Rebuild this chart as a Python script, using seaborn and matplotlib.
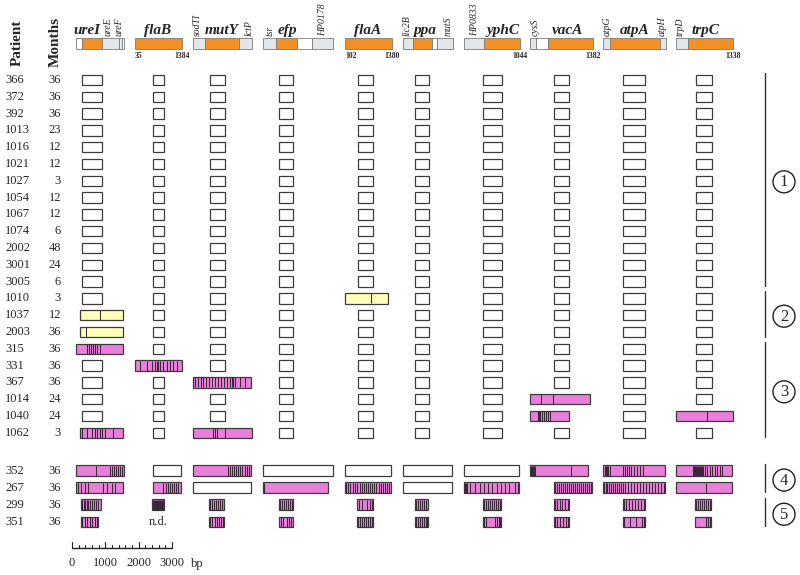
import matplotlib.pyplot as plt
from matplotlib.patches import Circle
import seaborn as sns

# patients and follow-up (months)
patients = ["366", "372", "392", "1013", "1016", "1021", "1027", "1054", "1067",
            "1074", "2002", "3001", "3005", "1010", "1037", "2003", "315", "331",
            "367", "1014", "1040", "1062", "352", "267", "299", "351"]
months = [36, 36, 36, 23, 12, 12, 3, 12, 12, 6, 48, 24, 6, 3, 12, 36, 36, 36,
          36, 24, 24, 3, 36, 36, 36, 36]

# groups (first row, last row, label)
groups = [(0, 12, "1"), (13, 15, "2"), (16, 21, "3"), (22, 23, "4"), (24, 25, "5")]

genes = ["ureI", "flaB", "mutY", "efp", "flaA", "ppa", "yphC", "vacA", "atpA", "trpC"]

# gene maps: (part, length in bp); o = sequenced gene, g = flanking gene, w = spacer
gene_maps = {
    "ureI": [("w", 180), ("o", 600), ("g", 510), ("g", 90), ("w", 60)],
    "flaB": [("o", 1410)],
    "mutY": [("g", 360), ("o", 1020), ("g", 390)],
    "efp": [("g", 390), ("o", 630), ("w", 450), ("g", 630)],
    "flaA": [("o", 1410)],
    "ppa": [("g", 300), ("o", 570), ("w", 150), ("g", 480)],
    "yphC": [("g", 600), ("o", 1080)],
    "vacA": [("g", 180), ("w", 360), ("o", 1350)],
    "atpA": [("g", 210), ("o", 1500), ("g", 180)],
    "trpC": [("g", 360), ("o", 1350)],
}
flank_labels = {
    "ureI": [("ureE", 960), ("ureF", 1290)],
    "mutY": [("sodTI", 120), ("lctP", 1680)],
    "efp": [("tsr", 210), ("HP0178", 1800)],
    "ppa": [("lic2B", 120), ("mutS", 1350)],
    "yphC": [("HP0833", 330)],
    "vacA": [("cysS", 150)],
    "atpA": [("atpG", 120), ("atpH", 1770)],
    "trpC": [("trpD", 120)],
}
codon_range = {"flaB": ("35", "1384"), "flaA": ("102", "1380"), "yphC": (None, "1044"),
               "vacA": (None, "1382"), "trpC": (None, "1338")}

# default sequenced fragment per gene (bp from map start)
seq_default = {"ureI": (180, 780), "flaB": (540, 870), "mutY": (510, 960),
               "efp": (480, 900), "flaA": (390, 840), "ppa": (360, 780),
               "yphC": (570, 1140), "vacA": (720, 1170), "atpA": (600, 1260),
               "trpC": (600, 1080)}

# changed fragments: (patient, gene, kind, start bp, end bp, polymorphic sites bp)
# kind: y = point mutation, p = imported DNA, w = longer unchanged fragment
changes = [
    ("1010", "flaA", "y", 0, 1290, [780]),
    ("1037", "ureI", "y", 120, 1410, [720]),
    ("2003", "ureI", "y", 120, 1410, [300]),
    ("315", "ureI", "p", 0, 1410, [330, 390, 450, 510, 570, 630, 720]),
    ("331", "flaB", "p", 0, 1410, [150, 360, 510, 600, 660, 690, 750, 840, 960, 1050, 1140, 1260]),
    ("367", "mutY", "p", 0, 1740, [60, 150, 240, 300, 390, 480, 570, 660, 750, 840, 930, 1020,
                                   1110, 1170, 1200, 1260, 1410, 1560]),
    ("1014", "vacA", "p", 0, 1800, [330, 690]),
    ("1040", "vacA", "p", 0, 1170, [240, 270, 300, 360, 420, 480, 540, 600]),
    ("1040", "trpC", "p", 0, 1710, [930]),
    ("1062", "ureI", "p", 120, 1410, [180, 330, 480, 570, 630, 720, 780, 870, 1110]),
    ("1062", "mutY", "p", 0, 1770, [600, 660, 720, 960]),
    ("352", "ureI", "p", 0, 1440, [600, 1020, 1080, 1140, 1200, 1260, 1320, 1380]),
    ("352", "flaB", "w", 540, 1380, []),
    ("352", "mutY", "p", 0, 1740, [1050, 1110, 1170, 1230, 1290, 1350, 1410, 1470, 1560, 1620, 1680]),
    ("352", "efp", "w", 0, 2100, []),
    ("352", "flaA", "w", 0, 1380, []),
    ("352", "ppa", "w", 0, 1470, []),
    ("352", "yphC", "w", 0, 1650, []),
    ("352", "vacA", "p", 0, 1740, [30, 60, 90, 120, 150, 1230]),
    ("352", "atpA", "p", 0, 1860, [60, 90, 120, 150, 210, 600, 660, 720, 780, 840, 930, 1020, 1110, 1200]),
    ("352", "trpC", "p", 0, 1680, [510, 540, 570, 600, 630, 660, 690, 720, 750, 780, 810, 870,
                                   930, 1020, 1080, 1170, 1230, 1320, 1380]),
    ("267", "ureI", "p", 0, 1410, [60, 150, 270, 360, 810, 930, 1080, 1170]),
    ("267", "flaB", "p", 540, 1380, [840, 930, 990, 1050, 1110, 1170, 1230, 1290]),
    ("267", "mutY", "w", 0, 1740, []),
    ("267", "efp", "p", 0, 1950, [30]),
    ("267", "flaA", "p", 0, 1380, [30, 90, 150, 240, 300, 360, 450, 510, 570, 630, 690, 750, 810,
                                   870, 930, 1020, 1080, 1140, 1200, 1260, 1320]),
    ("267", "ppa", "w", 0, 1470, []),
    ("267", "yphC", "p", 0, 1650, [0, 30, 60, 90, 180, 330, 480, 600, 720, 840, 990, 1110, 1230,
                                   1350, 1530, 1620]),
    ("267", "vacA", "p", 720, 1860, [750, 810, 870, 930, 990, 1050, 1110, 1170, 1230, 1290, 1350,
                                     1410, 1470, 1530, 1590, 1650, 1710, 1770, 1830]),
    ("267", "atpA", "p", 0, 1860, [30, 90, 120, 180, 240, 300, 360, 420, 480, 540, 600, 660, 750,
                                   840, 930, 1020, 1110, 1200, 1290, 1380, 1470, 1560, 1650, 1740, 1830]),
    ("267", "trpC", "p", 0, 1680, [900]),
    ("299", "ureI", "p", 150, 750, [180, 240, 270, 330, 360, 420, 480, 540, 600, 660]),
    ("299", "flaB", "p", 510, 870, [540, 570, 600, 630, 660, 690, 720, 750, 780, 810, 840]),
    ("299", "mutY", "p", 480, 930, [510, 570, 630, 690, 750, 810, 870]),
    ("299", "efp", "p", 480, 900, [510, 570, 630, 690, 750, 810, 870]),
    ("299", "flaA", "p", 360, 840, [420, 510, 660, 750, 810]),
    ("299", "ppa", "p", 360, 750, [390, 450, 510, 570, 630, 690]),
    ("299", "yphC", "p", 570, 1110, [600, 660, 720, 780, 840, 900, 960, 1020, 1080]),
    ("299", "vacA", "p", 720, 1170, [750, 810, 900, 960, 1050, 1140]),
    ("299", "atpA", "p", 600, 1260, [630, 690, 780, 870, 960, 1050, 1140, 1230]),
    ("299", "trpC", "p", 570, 1050, [600, 660, 720, 780, 840, 900, 960, 1020]),
    ("351", "ureI", "p", 150, 660, [180, 270, 330, 420, 480, 570, 630]),
    ("351", "mutY", "p", 480, 930, [510, 570, 660, 720, 780, 840, 900]),
    ("351", "efp", "p", 480, 900, [540, 600, 720, 780, 840]),
    ("351", "flaA", "p", 360, 840, [390, 450, 510, 570, 630, 690, 750, 810]),
    ("351", "ppa", "p", 360, 750, [390, 450, 510, 570, 630, 690, 720]),
    ("351", "yphC", "p", 570, 1110, [600, 660, 930, 990, 1050, 1080]),
    ("351", "vacA", "p", 720, 1170, [750, 810, 900, 990, 1080, 1140]),
    ("351", "atpA", "p", 600, 1260, [630, 810, 990, 1170, 1230]),
    ("351", "trpC", "p", 570, 1050, [900, 960, 1020]),
]
not_done = [("351", "flaB")]

scale_ticks = [0, 1000, 2000, 3000]

# ---- layout ----
BP = 30.0  # bp per drawing unit
gene_left = dict(zip(genes, [76, 135, 193, 263, 345, 403, 464, 530, 603, 676]))
name_x = dict(zip(genes, [330, 690, 870, 720, 690, 660, 1170, 1110, 960, 870]))
part_color = {"o": "#f39024", "g": "#e3e6e8", "w": "white"}
kind_color = {"y": "#ffffb8", "p": "#ea7fdb", "w": "white"}
stripe_color = "#3a2838"
edge = "#3c3c3c"
serif = ["Liberation Serif", "DejaVu Serif"]


def row_y(i):
    return 80 + i * 16.8 if i < 22 else 470.5 + (i - 22) * 17.1


sns.set_theme(style="white")
plt.rcParams["font.family"] = serif

fig = plt.figure(figsize=(8, 5.75), dpi=100)
ax = fig.add_axes([0, 0, 1, 1])
ax.set_xlim(0, 800)
ax.set_ylim(575, 0)
ax.axis("off")

# column headers
ax.text(17, 66, "Patient", rotation=90, ha="center", va="bottom", fontsize=11, fontweight="bold")
ax.text(55, 67, "Months", rotation=90, ha="center", va="bottom", fontsize=11, fontweight="bold")

# gene maps
for g in genes:
    x0 = gene_left[g]
    pos = 0
    o_start = o_end = None
    for part, length in gene_maps[g]:
        ax.barh(43.5, length / BP, left=x0 + pos / BP, height=11, color=part_color[part],
                edgecolor="#7a7a7a", linewidth=0.6)
        if part == "o":
            o_start, o_end = pos, pos + length
        pos += length
    ax.text(x0 + name_x[g] / BP, 34, g, ha="center", va="baseline", fontsize=11,
            fontweight="bold", fontstyle="italic")
    for lab, p in flank_labels.get(g, []):
        ax.text(x0 + p / BP, 36, lab, rotation=90, ha="center", va="bottom", fontsize=7,
                fontstyle="italic")
    if g in codon_range:
        s, e = codon_range[g]
        if s:
            ax.text(x0 + o_start / BP, 55.5, s, ha="left", va="center", fontsize=5.5, fontweight="bold")
        ax.text(x0 + o_end / BP, 55.5, e, ha="center", va="center", fontsize=5.5, fontweight="bold")

# rows
lookup = {(c[0], c[1]): c[2:] for c in changes}
for i, (pt, mo) in enumerate(zip(patients, months)):
    y = row_y(i)
    ax.text(5, y, pt, ha="left", va="center", fontsize=9)
    ax.text(61, y, str(mo), ha="right", va="center", fontsize=9)
    for g in genes:
        x0 = gene_left[g]
        if (pt, g) in not_done:
            ax.text(x0 + sum(seq_default[g]) / 2 / BP, y, "n.d.", ha="center", va="center", fontsize=9)
            continue
        if (pt, g) in lookup:
            kind, s, e, sites = lookup[(pt, g)]
        else:
            kind, (s, e), sites = "w", seq_default[g], []
        ax.barh(y, (e - s) / BP, left=x0 + s / BP, height=10.5, color=kind_color[kind],
                edgecolor=edge, linewidth=0.9, zorder=2)
        if sites:
            ax.vlines([x0 + v / BP for v in sites], y - 5, y + 5, color=stripe_color,
                      linewidth=0.75, zorder=3)

# group brackets
for a, b, lab in groups:
    ya, yb = row_y(a) - 7, row_y(b) + 4.5
    ax.plot([765, 765], [ya, yb], color="#333333", linewidth=1)
    ym = (row_y(a) + row_y(b)) / 2 + 1
    ax.add_patch(Circle((784, ym), 11, fill=False, edgecolor="#222222", linewidth=1))
    ax.text(784, ym + 0.5, lab, ha="center", va="center", fontsize=12)

# scale bar
sx0, sy = 72, 548
ax.plot([sx0, sx0 + 3000 / BP], [sy, sy], color="#222222", linewidth=1)
for t in range(0, 3001, 200):
    h = 6 if t % 1000 == 0 else 3
    ax.plot([sx0 + t / BP] * 2, [sy, sy - h], color="#222222", linewidth=0.8)
for t in scale_ticks:
    ax.text(sx0 + t / BP, 563, str(t), ha="center", va="center", fontsize=9)
ax.text(191, 564, "bp", ha="left", va="center", fontsize=9)

fig.savefig("out.png", dpi=100)
